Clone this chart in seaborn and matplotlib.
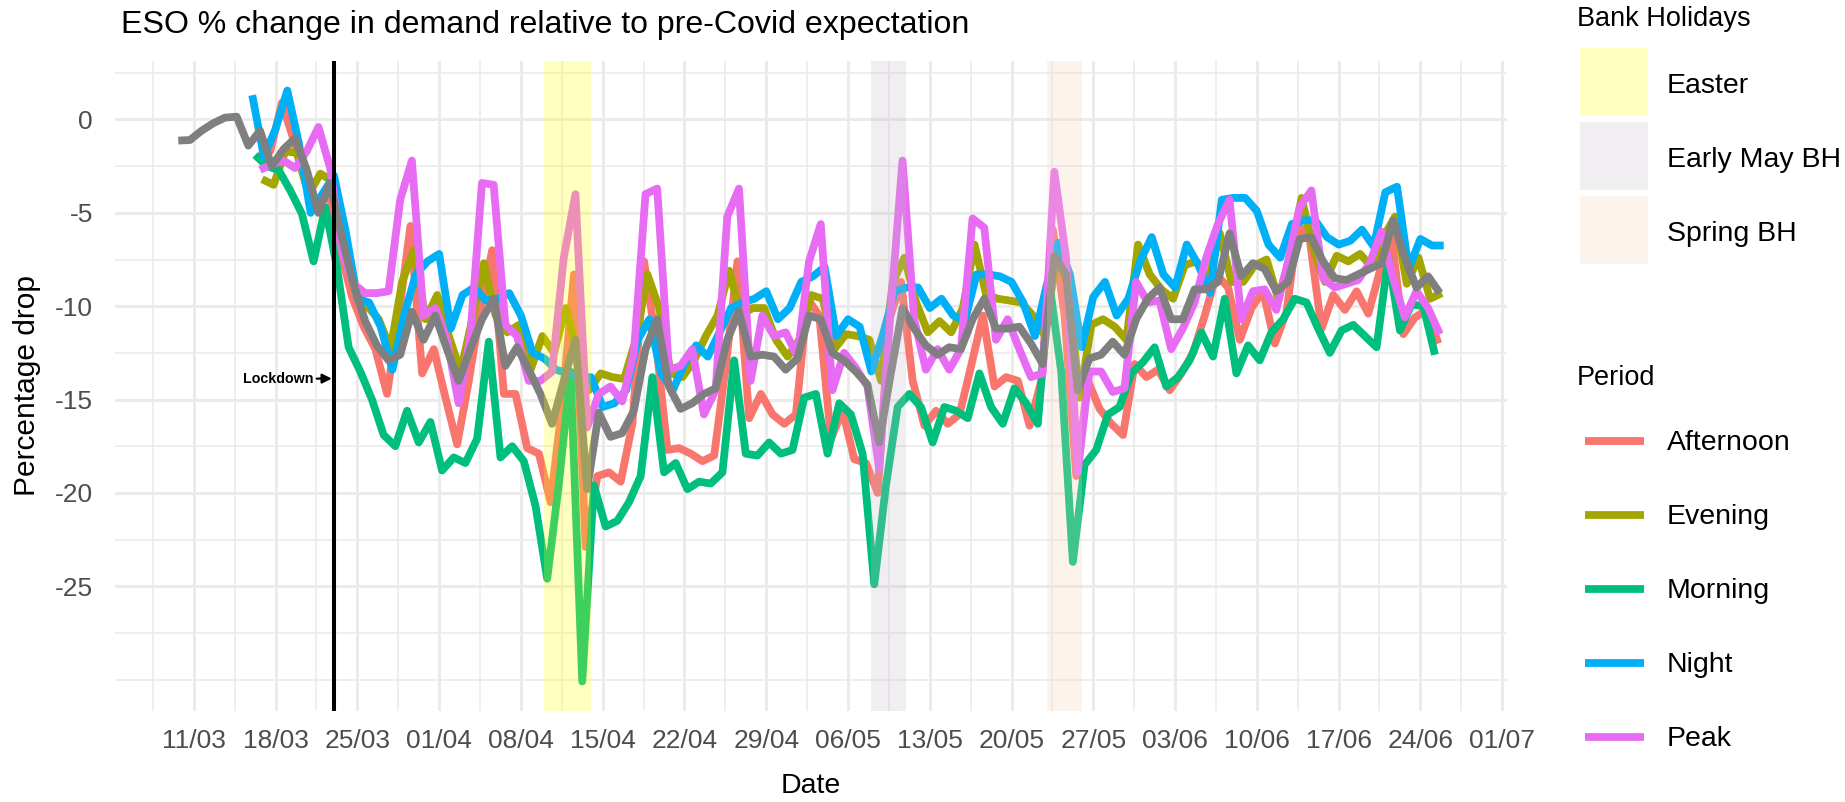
import numpy as np
import pandas as pd
import matplotlib
matplotlib.use("Agg")
import matplotlib.pyplot as plt
import matplotlib.dates as mdates
from matplotlib.patches import Rectangle
from matplotlib.lines import Line2D
import seaborn as sns

# ---------------- data ----------------
period_start = "2020-03-16"
average_start = "2020-03-09"

afternoon = [-2.0, -1.7, 0.9, -1.1, -3.4, -4.5, -3.8, -7.0, -9.5,
             -11.1, -12.3, -14.7, -10.5, -5.7, -13.6, -12.3, -14.9, -17.4, -14.0,
             -10.1, -7.0, -14.7, -14.7, -17.6, -17.9, -20.5, -15.2, -8.3, -22.9,
             -19.1, -18.9, -19.4, -16.3, -7.6, -11.8, -17.7, -17.6, -17.9, -18.3,
             -18.0, -13.2, -7.6, -16.0, -14.7, -15.8, -16.3, -15.8, -9.6, -10.5,
             -17.1, -15.6, -18.2, -18.4, -20.0, -10.7, -8.7, -14.0, -16.4, -15.6,
             -16.3, -15.8, -13.2, -10.5, -14.3, -13.8, -14.0, -16.4, -14.0, -5.9,
             -10.5, -19.1, -14.0, -15.5, -16.3, -16.9, -13.1, -13.8, -13.4, -14.5,
             -13.6, -12.5, -10.5, -8.3, -9.0, -11.8, -10.1, -9.2, -12.0, -10.3,
             -5.6, -6.5, -11.2, -9.4, -10.2, -9.2, -10.4, -8.1, -6.3, -11.5,
             -10.6, -10.2, -12.0]

evening = [-3.2, -3.5, -1.7, -1.8, -4.0, -2.9, -3.3, -6.7, -9.2,
           -10.0, -10.7, -12.3, -8.7, -7.0, -10.7, -9.4, -11.6, -13.5, -10.7,
           -7.7, -10.5, -11.4, -11.0, -13.4, -11.6, -12.5, -10.1, -12.5, -14.5,
           -13.6, -13.8, -13.9, -11.8, -8.3, -10.1, -13.6, -13.8, -12.9, -11.6,
           -10.5, -8.1, -10.5, -10.1, -10.1, -11.8, -12.7, -11.8, -9.4, -9.6,
           -12.3, -11.5, -11.6, -11.8, -14.0, -8.7, -7.4, -9.8, -11.4, -10.8,
           -11.4, -10.1, -6.7, -9.4, -9.6, -9.7, -9.8, -10.5, -11.6, -7.4,
           -8.7, -14.9, -11.0, -10.7, -11.1, -11.8, -6.7, -8.3, -9.1, -9.6,
           -7.8, -7.6, -8.7, -6.1, -8.7, -8.7, -7.8, -7.5, -9.6, -7.4,
           -4.2, -6.9, -8.7, -7.3, -7.6, -7.2, -7.9, -6.3, -5.2, -8.8,
           -7.4, -9.6, -9.3]

morning = [-1.9, -2.5, -2.7, -3.8, -5.05, -7.6, -4.7, -7.9, -12.2,
           -13.5, -15.0, -16.9, -17.5, -15.6, -17.3, -16.2, -18.8, -18.1, -18.4,
           -17.1, -11.9, -18.1, -17.5, -18.3, -20.7, -24.6, -19.5, -13.5, -30.1,
           -19.6, -21.8, -21.5, -20.5, -19.1, -13.8, -18.9, -18.4, -19.8, -19.4,
           -19.5, -18.9, -12.9, -17.9, -18.0, -17.3, -17.9, -17.7, -14.9, -14.7,
           -17.9, -15.2, -15.8, -17.9, -24.9, -19.6, -15.4, -14.7, -15.4, -17.3,
           -15.4, -15.6, -16.0, -13.6, -15.4, -16.3, -14.4, -15.2, -16.3, -8.8,
           -13.5, -23.7, -18.5, -17.7, -15.8, -15.4, -13.6, -13.0, -12.2, -14.3,
           -13.8, -12.9, -11.4, -12.7, -9.6, -13.6, -12.1, -12.9, -11.4, -10.7,
           -9.6, -9.8, -11.2, -12.5, -11.3, -11.0, -11.6, -12.2, -7.4, -11.3,
           -9.9, -10.0, -12.6]

night = [1.3, -2.0, -0.5, 1.55, -1.3, -5.0, -4.0, -3.0, -6.0,
         -9.6, -9.8, -11.1, -13.4, -10.5, -8.3, -7.6, -7.2, -11.2, -9.4,
         -9.0, -9.7, -9.6, -9.3, -10.5, -12.5, -12.8, -13.4, -13.6, -13.8,
         -13.8, -15.4, -15.2, -14.5, -11.8, -10.7, -13.6, -14.5, -13.1, -12.1,
         -12.7, -11.4, -10.1, -9.8, -9.6, -9.2, -10.7, -10.1, -8.7, -8.4,
         -7.9, -11.6, -10.7, -11.1, -13.5, -11.5, -9.2, -9.0, -9.0, -10.1,
         -9.6, -10.5, -10.8, -8.3, -8.3, -8.4, -8.7, -9.8, -11.6, -8.9,
         -6.6, -8.3, -12.2, -9.5, -8.7, -10.5, -9.6, -7.6, -6.3, -8.3,
         -9.0, -6.7, -7.8, -9.3, -4.3, -4.2, -4.2, -4.9, -6.7, -7.4,
         -5.6, -5.4, -5.4, -6.3, -6.7, -6.5, -5.9, -6.8, -3.9, -3.6,
         -8.0, -6.4, -6.75, -6.75]

peak = [-2.7, -2.4, -2.2, -2.6, -1.7, -0.4, -2.6, -7.0, -8.8,
        -9.3, -9.3, -9.2, -4.3, -2.2, -10.5, -10.1, -11.8, -15.2, -11.6,
        -3.4, -3.5, -11.0, -11.6, -14.0, -14.0, -13.5, -7.4, -4.0, -16.5,
        -14.7, -14.3, -15.1, -12.5, -4.0, -3.7, -13.4, -13.2, -12.3, -15.8,
        -14.5, -5.2, -3.7, -14.0, -10.5, -11.6, -11.4, -12.7, -7.6, -5.6,
        -14.5, -12.5, -13.3, -14.3, -18.7, -10.1, -2.2, -10.7, -13.4, -12.3,
        -13.4, -12.3, -5.3, -5.8, -11.8, -10.7, -12.3, -13.8, -13.6, -2.8,
        -7.4, -18.9, -13.5, -13.5, -14.6, -14.4, -8.7, -9.8, -9.7, -12.3,
        -11.2, -9.8, -7.4, -5.6, -4.3, -10.7, -9.2, -9.1, -10.2, -7.6,
        -4.7, -3.8, -8.5, -9.0, -8.8, -8.6, -7.7, -6.0, -8.5, -10.6,
        -9.2, -10.1, -11.5]

average = [-1.13, -1.1, -0.6, -0.2, 0.1, 0.15, -1.4,
           -0.6, -2.5, -1.6, -1.0, -2.7, -5.0, -3.4, -6.3, -8.8,
           -10.8, -12.1, -12.9, -12.6, -10.3, -11.8, -10.5, -12.3, -14.0, -12.3,
           -10.7, -9.6, -13.2, -12.2, -13.4, -14.7, -16.3, -14.0, -11.8, -19.8,
           -15.7, -17.0, -16.8, -15.6, -12.3, -10.7, -14.3, -15.5, -15.2, -14.7,
           -14.4, -11.8, -10.3, -12.7, -12.6, -12.7, -13.4, -12.8, -10.5, -10.7,
           -12.5, -12.9, -13.5, -14.2, -17.3, -13.6, -10.1, -11.2, -12.1, -12.6,
           -12.2, -12.3, -10.7, -9.6, -11.2, -11.2, -11.1, -12.0, -13.1, -7.3,
           -8.3, -14.5, -12.8, -12.6, -11.9, -12.6, -10.7, -9.6, -9.0, -10.7,
           -10.7, -9.1, -9.1, -8.7, -6.1, -8.4, -7.7, -8.0, -9.2, -8.7,
           -6.4, -6.3, -7.6, -8.5, -8.6, -8.3, -8.0, -7.7, -5.4, -7.4,
           -9.0, -8.4, -9.3]

periods = ["Afternoon", "Evening", "Morning", "Night", "Peak"]
period_values = [afternoon, evening, morning, night, peak]
period_hours = [13, 20, 6, 0, 16]          # time of day each period is stamped at
average_hour = 16
period_colors = ["#F8766D", "#A3A500", "#00BF7D", "#00B0F6", "#E76BF3"]
average_color = "#7F7F7F"

bank_holidays = ["Easter", "Early May BH", "Spring BH"]
bh_start = ["2020-04-10", "2020-05-08", "2020-05-23"]
bh_end = ["2020-04-14", "2020-05-11", "2020-05-26"]
bh_colors = ["#FFFF00", "#C6BEC6", "#F7D7B7"]
bh_alpha = 0.25

lockdown_date = "2020-03-23"
tick_dates = pd.date_range("2020-03-11", "2020-07-01", freq="7D")
y_major = [0, -5, -10, -15, -20, -25]
y_minor = [2.5, -2.5, -7.5, -12.5, -17.5, -22.5, -27.5, -30]

# ---------------- frames ----------------
frames = []
for p, vals, h in zip(periods, period_values, period_hours):
    t = pd.date_range(period_start, periods=len(vals), freq="D") + pd.Timedelta(hours=h)
    frames.append(pd.DataFrame({"Time": t, "Change": vals, "Period": p}))
df = pd.concat(frames, ignore_index=True)
avg_df = pd.DataFrame({
    "Time": pd.date_range(average_start, periods=len(average), freq="D") + pd.Timedelta(hours=average_hour),
    "Change": average})

# ---------------- figure ----------------
plt.rcParams["font.family"] = ["Liberation Sans", "DejaVu Sans"]
W, H = 1845, 802
fig = plt.figure(figsize=(W / 100, H / 100), dpi=100)
fx = lambda px: px / W
fy = lambda py: 1 - py / H

L, R, T, B = 115, 1507, 61, 711
ax = fig.add_axes([fx(L), fy(B), fx(R) - fx(L), fy(T) - fy(B)])

LW = 5.6
sns.lineplot(data=df, x="Time", y="Change", hue="Period", hue_order=periods,
             palette=period_colors, estimator=None, sort=False, lw=LW,
             legend=False, ax=ax, solid_joinstyle="round", solid_capstyle="butt", zorder=2)
sns.lineplot(data=avg_df, x="Time", y="Change", color=average_color, estimator=None,
             sort=False, lw=LW, legend=False, ax=ax, solid_joinstyle="round",
             solid_capstyle="butt", zorder=2.5)

for s, e, c in zip(bh_start, bh_end, bh_colors):
    ax.axvspan(pd.Timestamp(s), pd.Timestamp(e), color=c, alpha=bh_alpha, lw=0, zorder=3)

ld = pd.Timestamp(lockdown_date)
ax.axvline(ld, color="black", lw=2.9, zorder=5)
ax.annotate("Lockdown",
            xy=(mdates.date2num(ld - pd.Timedelta(hours=4.5)), -13.88),
            xytext=(mdates.date2num(ld - pd.Timedelta(days=1.72)), -13.88),
            ha="right", va="center", fontsize=10.3, fontweight="bold", color="black",
            arrowprops=dict(arrowstyle="-|>", color="black", lw=1.6, shrinkA=0, shrinkB=0,
                            mutation_scale=14), zorder=6)

ax.set_xticks(tick_dates)
ax.set_xticklabels([d.strftime("%d/%m") for d in tick_dates])
minor_x = list(tick_dates - pd.Timedelta(hours=84)) + [tick_dates[-1] + pd.Timedelta(hours=84)]
ax.set_xticks(minor_x, minor=True)
ax.set_yticks(y_major)
ax.set_yticklabels([str(v) for v in y_major])
ax.set_yticks(y_minor, minor=True)

# limits: data range expanded by 5% on each side (ggplot default)
xnum = mdates.date2num(pd.concat([df["Time"], avg_df["Time"]]))
yall = np.concatenate([df["Change"].values, avg_df["Change"].values])
xpad = 0.05 * (xnum.max() - xnum.min())
ypad = 0.05 * (yall.max() - yall.min())
ax.set_xlim(xnum.min() - xpad, xnum.max() + xpad)
ax.set_ylim(yall.min() - ypad, yall.max() + ypad)

ax.grid(which="major", color="#EBEBEB", lw=2.1)
ax.grid(which="minor", color="#EBEBEB", lw=1.2)
ax.set_axisbelow(True)
for sp in ax.spines.values():
    sp.set_visible(False)
ax.tick_params(which="both", length=0)
ax.tick_params(axis="x", labelsize=19, labelcolor="#4D4D4D", pad=12.7)
ax.tick_params(axis="y", labelsize=19, labelcolor="#4D4D4D", pad=15.8)

ax.set_xlabel("Date", fontsize=20.5, color="black")
ax.xaxis.label.set_va("baseline")
ax.xaxis.set_label_coords(0.5, -(792.8 - B) / (B - T))
ax.set_ylabel("Percentage drop", fontsize=21.5, color="black")
ax.yaxis.label.set_va("center")
ax.yaxis.set_label_coords((27 - L) / (R - L), 0.5)

fig.text(fx(121), fy(33), "ESO % change in demand relative to pre-Covid expectation",
         fontsize=23.1, ha="left", va="baseline", color="black")

# ---------------- legends (manual, figure pixels) ----------------
fig.text(fx(1577), fy(19), "Bank Holidays", fontsize=19.5, ha="left", va="center")
sw_top = [48, 122, 196]
sw_h = 68
for name, c, top in zip(bank_holidays, bh_colors, sw_top):
    fig.add_artist(Rectangle((fx(1580), fy(top + sw_h)), fx(1648) - fx(1580), fy(top) - fy(top + sw_h),
                             transform=fig.transFigure, facecolor=c, alpha=bh_alpha, lw=0))
    fig.text(fx(1667), fy(top + sw_h / 2 + 4), name, fontsize=20.5, ha="left", va="center")

fig.text(fx(1577), fy(378), "Period", fontsize=19.5, ha="left", va="center")
line_y = [441, 515, 589, 663, 737]
for name, c, yy in zip(periods, period_colors, line_y):
    fig.add_artist(Line2D([fx(1585), fx(1644)], [fy(yy), fy(yy)], transform=fig.transFigure,
                          color=c, lw=LW, solid_capstyle="butt"))
    fig.text(fx(1667), fy(yy + 2), name, fontsize=20.5, ha="left", va="center")

fig.savefig("out.png", dpi=100, facecolor="white")
